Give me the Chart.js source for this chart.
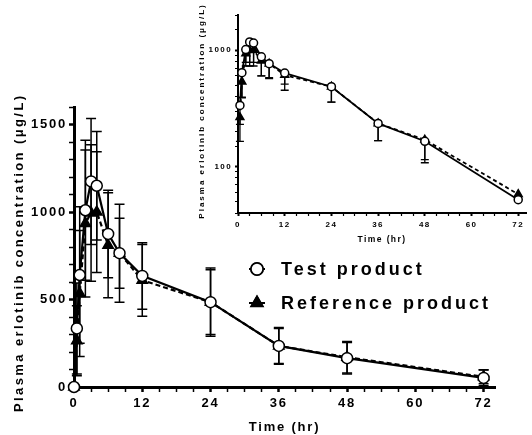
<!DOCTYPE html>
<html>
<head>
<meta charset="utf-8">
<script src="https://cdn.jsdelivr.net/npm/chart.js@4.4.1/dist/chart.umd.min.js"></script>
<style>
html, body { margin: 0; padding: 0; background: #fff; }
#wrap { position: relative; width: 532px; height: 435px; }
#main { position: absolute; left: 0; top: 0; }
#inset { position: absolute; left: 195px; top: 0; }
</style>
</head>
<body>
<div id="wrap">
  <canvas id="main" width="532" height="435"></canvas>
  <canvas id="inset" width="337" height="245"></canvas>
</div>
<script>
// sampling times (hr)
const times = [0, 0.5, 1, 2, 3, 4, 6, 8, 12, 24, 36, 48, 72];

// mean concentrations (µg/L) and SD
const testMean = [0, 335, 640, 1010, 1175, 1150, 875, 765, 635, 485, 235, 165, 52];
const testSD   = [0, 260, 390, 400, 360, 310, 250, 280, 190, 195, 100, 90, 45];
const refMean  = [0, 265, 535, 935, 995, 1000, 810, 765, 610, 485, 235, 170, 58];
const refSD    = [0, 200, 360, 420, 390, 345, 300, 200, 205, 185, 105, 90, 40];

// lower whisker ends
const insetTestLow = [null, 230, 395, 785, 785, 785, 600, 580, 510, 358, 167, 115, null];
const insetRefLow  = [null, 165, 390, 730, 730, 730, 600, 570, 452, 358, 167, 108, null];

const xTicks = [0, 12, 24, 36, 48, 60, 72];
const yTicksMain = [0, 500, 1000, 1500];
const yTicksInset = [100, 1000];

const labels = ['Test product', 'Reference product'];
const yTitle = 'Plasma erlotinib concentration (μg/L)';

function font(size) {
    return { family: 'Liberation Sans, Arial, sans-serif', size: size, weight: 'bold' };
}

function points(mean, skipZero) {
    let out = [];
    times.forEach(function (t, i) {
        if (skipZero && !(mean[i] > 0)) return;
        out.push({ x: t, y: mean[i] });
    });
    return out;
}

// letter spacing for all text on a chart
const spacing = {
    id: 'spacing',
    beforeLayout: function (chart, args, opts) { chart.ctx.letterSpacing = opts.px + 'px'; },
    beforeDraw: function (chart, args, opts) { chart.ctx.letterSpacing = opts.px + 'px'; }
};

// rotated y title, placed by hand
const sideTitle = {
    id: 'sideTitle',
    afterDraw: function (chart, args, opts) {
        let ctx = chart.ctx;
        ctx.save();
        ctx.letterSpacing = opts.spacing + 'px';
        ctx.font = 'bold ' + opts.size + 'px "Liberation Sans", Arial, sans-serif';
        ctx.fillStyle = '#000';
        ctx.textAlign = 'center';
        ctx.textBaseline = 'middle';
        ctx.translate(opts.x, opts.y);
        ctx.rotate(-Math.PI / 2);
        ctx.fillText(opts.text, opts.spacing / 2, 0);
        ctx.restore();
    }
};

// error bars, drawn under the markers
const errorBars = {
    id: 'errorBars',
    beforeDatasetsDraw: function (chart, args, opts) {
        let ctx = chart.ctx;
        let x = chart.scales.x, y = chart.scales.y;
        ctx.save();
        ctx.strokeStyle = '#000';
        ctx.lineWidth = opts.width;
        opts.sets.forEach(function (s) {
            times.forEach(function (t, i) {
                if (s.lo[i] == null || !(s.mean[i] > 0)) return;
                let px = x.getPixelForValue(t);
                let hi = s.hi ? s.hi[i] : s.mean[i];
                let yTop = y.getPixelForValue(hi);
                let yBot = y.getPixelForValue(Math.max(s.lo[i], y.min));
                ctx.beginPath();
                ctx.moveTo(px, yTop);
                ctx.lineTo(px, yBot);
                if (s.hi) {
                    ctx.moveTo(px - opts.cap, yTop);
                    ctx.lineTo(px + opts.cap, yTop);
                }
                ctx.moveTo(px - opts.cap, yBot);
                ctx.lineTo(px + opts.cap, yBot);
                ctx.stroke();
            });
        });
        ctx.restore();
    }
};

// legend placed inside the main plot
const keyBox = {
    id: 'keyBox',
    afterDraw: function (chart, args, opts) {
        let ctx = chart.ctx;
        ctx.save();
        ctx.letterSpacing = '3px';
        ctx.font = 'bold 18px "Liberation Sans", Arial, sans-serif';
        ctx.textBaseline = 'middle';
        chart.data.datasets.forEach(function (ds, i) {
            let cx = opts.x, cy = opts.y + i * opts.gap;
            ctx.strokeStyle = '#000';
            ctx.lineWidth = 2;
            ctx.beginPath();
            ctx.moveTo(cx - 8, cy);
            ctx.lineTo(cx + 8, cy);
            ctx.stroke();
            Chart.helpers.drawPoint(ctx, {
                pointStyle: ds.pointStyle,
                radius: ds.pointRadius + 0.5,
                borderWidth: ds.pointBorderWidth,
                rotation: 0
            }, cx, cy);
            ctx.fillStyle = ds.pointBackgroundColor;
            ctx.strokeStyle = '#000';
            ctx.lineWidth = ds.pointBorderWidth;
            ctx.fill();
            ctx.stroke();
            ctx.fillStyle = '#000';
            ctx.fillText(labels[i], opts.x + 24, cy + 1);
        });
        ctx.restore();
    }
};

function lineSet(label, mean, skipZero, style, r, fill, dash, width) {
    return {
        label: label,
        data: points(mean, skipZero),
        borderColor: '#000',
        borderWidth: width,
        borderDash: dash,
        tension: 0,
        pointStyle: style,
        pointRadius: r,
        pointBackgroundColor: fill,
        pointBorderColor: '#000',
        pointBorderWidth: 1.5,
        clip: false
    };
}

// ---------- main linear chart ----------
new Chart(document.getElementById('main'), {
    type: 'line',
    data: {
        datasets: [
            lineSet(labels[0], testMean, false, 'circle', 5.5, '#fff', [], 2.2),
            lineSet(labels[1], refMean, false, 'triangle', 6, '#000', [5, 3], 2.2)
        ]
    },
    options: {
        responsive: false,
        animation: false,
        devicePixelRatio: 1,
        layout: { padding: { top: 107, right: 37, left: 0, bottom: 0 } },
        plugins: {
            legend: { display: false },
            tooltip: { enabled: false },
            spacing: { px: 1.8 },
            sideTitle: { text: yTitle, size: 13, spacing: 2.4, x: 19, y: 254 },
            keyBox: { x: 257, y: 269, gap: 34 },
            errorBars: {
                width: 1.5,
                cap: 5,
                sets: [
                    { mean: testMean, hi: testMean.map((m, i) => m + testSD[i]), lo: testMean.map((m, i) => m - testSD[i]) },
                    { mean: refMean, hi: refMean.map((m, i) => m + refSD[i]), lo: refMean.map((m, i) => m - refSD[i]) }
                ]
            }
        },
        scales: {
            x: {
                type: 'linear',
                min: 0,
                max: 74,
                border: { color: '#000', width: 3 },
                grid: {
                    drawOnChartArea: false,
                    tickLength: 5,
                    tickColor: '#000',
                    tickWidth: c => (c.tick && xTicks.includes(c.tick.value)) ? 2.5 : 1.5
                },
                ticks: {
                    stepSize: 3,
                    includeBounds: false,
                    autoSkip: false,
                    maxRotation: 0,
                    color: '#000',
                    font: font(13),
                    padding: 4,
                    callback: v => xTicks.includes(v) ? v : ''
                },
                title: { display: true, text: 'Time (hr)', color: '#000', font: font(13), padding: { top: 3, bottom: 0 } },
                afterFit: s => { s.height = 48; }
            },
            y: {
                type: 'linear',
                min: 0,
                max: 1600,
                border: { color: '#000', width: 3 },
                grid: {
                    drawOnChartArea: false,
                    tickLength: 5,
                    tickColor: '#000',
                    tickWidth: c => (c.tick && yTicksMain.includes(c.tick.value)) ? 2.5 : 1.5
                },
                ticks: {
                    stepSize: 100,
                    includeBounds: false,
                    autoSkip: false,
                    color: '#000',
                    font: font(13),
                    padding: 2,
                    callback: v => yTicksMain.includes(v) ? v : ''
                },
                title: { display: false },
                afterFit: s => { s.width = 74; }
            }
        }
    },
    plugins: [spacing, errorBars, keyBox, sideTitle]
});

// ---------- log inset ----------
new Chart(document.getElementById('inset'), {
    type: 'line',
    data: {
        datasets: [
            lineSet(labels[0], testMean, true, 'circle', 4, '#fff', [], 1.8),
            lineSet(labels[1], refMean, true, 'triangle', 4.5, '#000', [4, 3], 1.8)
        ]
    },
    options: {
        responsive: false,
        animation: false,
        devicePixelRatio: 1,
        layout: { padding: { top: 15, right: 0, left: 0, bottom: 0 } },
        plugins: {
            legend: { display: false },
            tooltip: { enabled: false },
            spacing: { px: 1.4 },
            sideTitle: { text: yTitle, size: 8, spacing: 2, x: 7, y: 112 },
            errorBars: {
                width: 1.3,
                cap: 4,
                sets: [
                    { mean: testMean, hi: null, lo: insetTestLow },
                    { mean: refMean, hi: null, lo: insetRefLow }
                ]
            }
        },
        scales: {
            x: {
                type: 'linear',
                min: 0,
                max: 74,
                border: { color: '#000', width: 2 },
                grid: {
                    drawOnChartArea: false,
                    tickLength: 3,
                    tickColor: '#000',
                    tickWidth: c => (c.tick && xTicks.includes(c.tick.value)) ? 2 : 1.2
                },
                ticks: {
                    stepSize: 3,
                    includeBounds: false,
                    autoSkip: false,
                    maxRotation: 0,
                    color: '#000',
                    font: font(8),
                    padding: 4,
                    callback: v => xTicks.includes(v) ? v : ''
                },
                title: { display: true, text: 'Time (hr)', color: '#000', font: font(8.5), padding: { top: 2, bottom: 0 } },
                afterFit: s => { s.height = 32; }
            },
            y: {
                type: 'logarithmic',
                min: 40,
                max: 2000,
                border: { color: '#000', width: 2 },
                grid: {
                    drawOnChartArea: false,
                    tickLength: 3,
                    tickColor: '#000',
                    tickWidth: c => (c.tick && yTicksInset.includes(c.tick.value)) ? 2 : 1.2
                },
                ticks: {
                    autoSkip: false,
                    color: '#000',
                    font: font(8),
                    padding: 3,
                    callback: v => yTicksInset.includes(v) ? v : ''
                },
                title: { display: false },
                afterFit: s => { s.width = 43; }
            }
        }
    },
    plugins: [spacing, errorBars, sideTitle]
});
</script>
</body>
</html>
